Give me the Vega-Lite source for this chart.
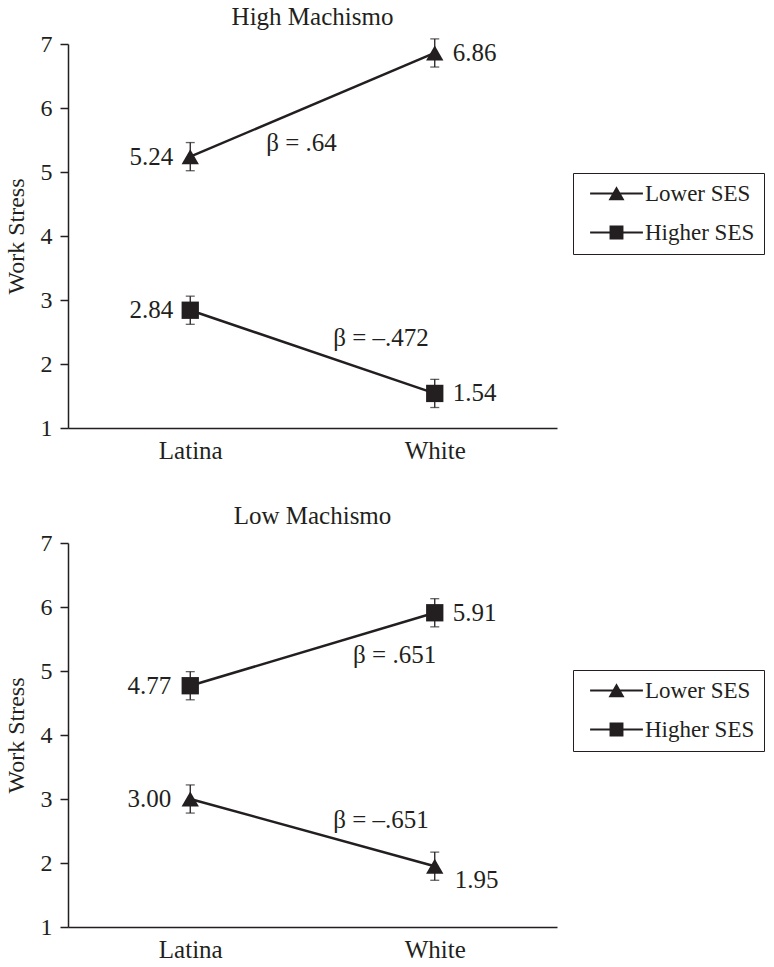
{
  "$schema": "https://vega.github.io/schema/vega-lite/v6.json",
  "background": "white",
  "padding": {"left": 4, "top": 5, "right": 0, "bottom": 0},
  "spacing": 41,
  "config": {
    "font": "Liberation Serif",
    "view": {"stroke": null},
    "axis": {
      "grid": false,
      "domainColor": "#231f20",
      "tickColor": "#231f20",
      "labelColor": "#231f20",
      "titleColor": "#231f20",
      "labelFont": "Liberation Serif",
      "titleFont": "Liberation Serif",
      "labelFontSize": 24,
      "titleFontSize": 24,
      "titleFontWeight": "normal",
      "domainWidth": 1.5,
      "tickWidth": 1.5
    },
    "title": {"font": "Liberation Serif", "fontSize": 25, "fontWeight": "normal", "color": "#231f20", "offset": 2},
    "legend": {"labelFont": "Liberation Serif", "labelFontSize": 23, "labelColor": "#231f20"}
  },
  "datasets": {
    "points": [
      {"panel": "High Machismo", "ses": "Lower SES", "race": "Latina", "xi": 0, "mean": 5.24, "lo": 5.02, "hi": 5.46},
      {"panel": "High Machismo", "ses": "Lower SES", "race": "White", "xi": 1, "mean": 6.86, "lo": 6.64, "hi": 7.08},
      {"panel": "High Machismo", "ses": "Higher SES", "race": "Latina", "xi": 0, "mean": 2.84, "lo": 2.62, "hi": 3.06},
      {"panel": "High Machismo", "ses": "Higher SES", "race": "White", "xi": 1, "mean": 1.54, "lo": 1.32, "hi": 1.76},
      {"panel": "Low Machismo", "ses": "Higher SES", "race": "Latina", "xi": 0, "mean": 4.77, "lo": 4.55, "hi": 4.99},
      {"panel": "Low Machismo", "ses": "Higher SES", "race": "White", "xi": 1, "mean": 5.91, "lo": 5.69, "hi": 6.13},
      {"panel": "Low Machismo", "ses": "Lower SES", "race": "Latina", "xi": 0, "mean": 3.00, "lo": 2.78, "hi": 3.22},
      {"panel": "Low Machismo", "ses": "Lower SES", "race": "White", "xi": 1, "mean": 1.95, "lo": 1.73, "hi": 2.17}
    ],
    "notes": [
      {"panel": "High Machismo", "xi": 0.455, "y": 5.45, "text": "β = .64"},
      {"panel": "High Machismo", "xi": 0.78, "y": 2.41, "text": "β = –.472"},
      {"panel": "Low Machismo", "xi": 0.836, "y": 5.25, "text": "β = .651"},
      {"panel": "Low Machismo", "xi": 0.78, "y": 2.67, "text": "β = –.651"}
    ]
  },
  "resolve": {"scale": {"shape": "independent"}, "legend": {"shape": "independent"}},
  "vconcat": [
    {
      "title": "High Machismo",
      "width": 489,
      "height": 384,
      "data": {"name": "points"},
      "transform": [{"filter": "datum.panel == 'High Machismo'"}],
      "resolve": {"scale": {"shape": "independent"}, "legend": {"shape": "independent"}},
      "encoding": {
        "x": {"field": "xi", "type": "quantitative", "scale": {"domain": [-0.5, 1.5]},
              "axis": {"title": null, "values": [0, 1], "labelExpr": "datum.value == 0 ? 'Latina' : 'White'", "ticks": false, "labelPadding": 10, "labelFontSize": 25}},
        "y": {"field": "mean", "type": "quantitative", "title": "Work Stress", "scale": {"domain": [1, 7]},
              "axis": {"values": [1, 2, 3, 4, 5, 6, 7], "tickSize": 8, "labelPadding": 8, "titlePadding": 12}}
      },
      "layer": [
        {"mark": {"type": "line", "color": "#231f20", "strokeWidth": 2.5}, "encoding": {"detail": {"field": "ses"}}},
        {"mark": {"type": "errorbar", "color": "#231f20", "thickness": 1.3, "ticks": {"size": 9, "thickness": 1.3}},
         "encoding": {"y": {"field": "lo", "type": "quantitative", "title": "Work Stress", "scale": {"domain": [1, 7]}}, "y2": {"field": "hi"}}},
        {"mark": {"type": "point", "filled": true, "opacity": 1, "color": "#231f20", "size": 300},
         "encoding": {"shape": {"field": "ses", "type": "nominal",
           "scale": {"domain": ["Lower SES", "Higher SES"], "range": ["triangle-up", "square"]}, "legend": null}}},
        {"transform": [{"filter": "false"}],
         "mark": {"type": "point", "filled": true, "opacity": 1, "color": "#231f20"},
         "encoding": {"shape": {"field": "ses", "type": "nominal",
           "scale": {"domain": ["Lower SES", "Higher SES"], "range": ["M-3.3,-0.13H3.3V0.13H-3.3ZM-1,0.85L0,-0.9L1,0.85Z", "M-3.3,-0.13H3.3V0.13H-3.3ZM-0.87,-0.87H0.87V0.87H-0.87Z"]},
           "legend": {"title": null, "orient": "none", "legendX": 505, "legendY": 129,
             "strokeColor": "#231f20", "fillColor": "white", "padding": 9,
             "symbolSize": 256, "symbolOffset": 23, "labelOffset": 17, "rowPadding": 15,
             "symbolStrokeWidth": 0}}}},
        {"transform": [{"filter": "datum.xi == 0"}],
         "mark": {"type": "text", "align": "right", "baseline": "middle", "dx": -17, "fontSize": 25, "color": "#231f20"},
         "encoding": {"text": {"field": "mean", "type": "quantitative", "format": ".2f"}}},
        {"transform": [{"filter": "datum.xi == 1"}],
         "mark": {"type": "text", "align": "left", "baseline": "middle", "dx": 18, "fontSize": 25, "color": "#231f20"},
         "encoding": {"text": {"field": "mean", "type": "quantitative", "format": ".2f"}}},
        {"data": {"name": "notes"}, "transform": [{"filter": "datum.panel == 'High Machismo'"}],
         "mark": {"type": "text", "align": "center", "baseline": "middle", "fontSize": 25, "color": "#231f20"},
         "encoding": {"y": {"field": "y", "type": "quantitative", "title": "Work Stress"}, "text": {"field": "text"}}}
      ]
    },
    {
      "title": "Low Machismo",
      "width": 489,
      "height": 384,
      "data": {"name": "points"},
      "transform": [{"filter": "datum.panel == 'Low Machismo'"}],
      "resolve": {"scale": {"shape": "independent"}, "legend": {"shape": "independent"}},
      "encoding": {
        "x": {"field": "xi", "type": "quantitative", "scale": {"domain": [-0.5, 1.5]},
              "axis": {"title": null, "values": [0, 1], "labelExpr": "datum.value == 0 ? 'Latina' : 'White'", "ticks": false, "labelPadding": 10, "labelFontSize": 25}},
        "y": {"field": "mean", "type": "quantitative", "title": "Work Stress", "scale": {"domain": [1, 7]},
              "axis": {"values": [1, 2, 3, 4, 5, 6, 7], "tickSize": 8, "labelPadding": 8, "titlePadding": 12}}
      },
      "layer": [
        {"mark": {"type": "line", "color": "#231f20", "strokeWidth": 2.5}, "encoding": {"detail": {"field": "ses"}}},
        {"mark": {"type": "errorbar", "color": "#231f20", "thickness": 1.3, "ticks": {"size": 9, "thickness": 1.3}},
         "encoding": {"y": {"field": "lo", "type": "quantitative", "title": "Work Stress", "scale": {"domain": [1, 7]}}, "y2": {"field": "hi"}}},
        {"mark": {"type": "point", "filled": true, "opacity": 1, "color": "#231f20", "size": 300},
         "encoding": {"shape": {"field": "ses", "type": "nominal",
           "scale": {"domain": ["Lower SES", "Higher SES"], "range": ["triangle-up", "square"]}, "legend": null}}},
        {"transform": [{"filter": "false"}],
         "mark": {"type": "point", "filled": true, "opacity": 1, "color": "#231f20"},
         "encoding": {"shape": {"field": "ses", "type": "nominal",
           "scale": {"domain": ["Lower SES", "Higher SES"], "range": ["M-3.3,-0.13H3.3V0.13H-3.3ZM-1,0.85L0,-0.9L1,0.85Z", "M-3.3,-0.13H3.3V0.13H-3.3ZM-0.87,-0.87H0.87V0.87H-0.87Z"]},
           "legend": {"title": null, "orient": "none", "legendX": 505, "legendY": 127,
             "strokeColor": "#231f20", "fillColor": "white", "padding": 9,
             "symbolSize": 256, "symbolOffset": 23, "labelOffset": 17, "rowPadding": 15,
             "symbolStrokeWidth": 0}}}},
        {"transform": [{"filter": "datum.xi == 0"}],
         "mark": {"type": "text", "align": "right", "baseline": "middle", "dx": -19, "fontSize": 25, "color": "#231f20"},
         "encoding": {"text": {"field": "mean", "type": "quantitative", "format": ".2f"}}},
        {"transform": [{"filter": "datum.xi == 1 && datum.ses == 'Higher SES'"}],
         "mark": {"type": "text", "align": "left", "baseline": "middle", "dx": 18, "fontSize": 25, "color": "#231f20"},
         "encoding": {"text": {"field": "mean", "type": "quantitative", "format": ".2f"}}},
        {"transform": [{"filter": "datum.xi == 1 && datum.ses == 'Lower SES'"}],
         "mark": {"type": "text", "align": "left", "baseline": "middle", "dx": 20, "dy": 14, "fontSize": 25, "color": "#231f20"},
         "encoding": {"text": {"field": "mean", "type": "quantitative", "format": ".2f"}}},
        {"data": {"name": "notes"}, "transform": [{"filter": "datum.panel == 'Low Machismo'"}],
         "mark": {"type": "text", "align": "center", "baseline": "middle", "fontSize": 25, "color": "#231f20"},
         "encoding": {"y": {"field": "y", "type": "quantitative", "title": "Work Stress"}, "text": {"field": "text"}}}
      ]
    }
  ]
}
